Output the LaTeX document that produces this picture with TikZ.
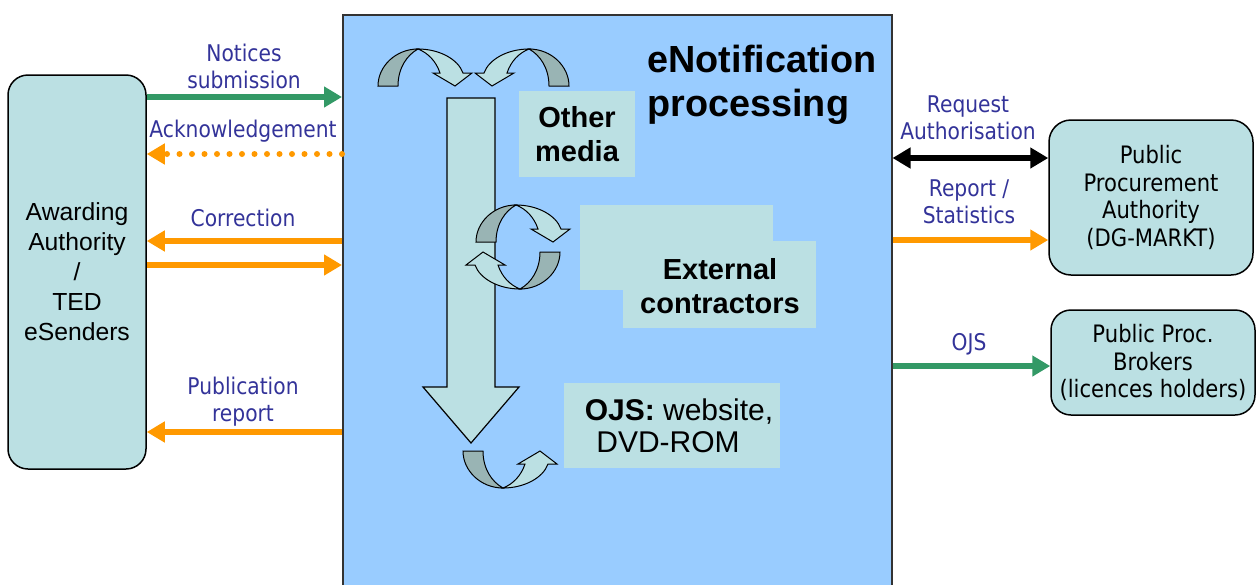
\documentclass[tikz,border=0pt]{standalone}
\usepackage{fontspec}
\setmainfont{Liberation Sans}
\newfontfamily\tahoma[FakeStretch=0.88]{DejaVu Sans}
\usepackage{xcolor}
\usetikzlibrary{arrows.meta, positioning}

\definecolor{procblue}{RGB}{153,204,255}
\definecolor{boxteal}{RGB}{187,224,227}
\definecolor{arrdark}{RGB}{153,180,180}
\definecolor{flowgreen}{RGB}{51,153,102}
\definecolor{floworange}{RGB}{255,153,0}
\definecolor{labelblue}{RGB}{51,51,153}

\tikzset{curvarrow/.pic={
  \filldraw[fill=arrdark] (-77,0) .. controls (-77,-20) and (-59,-37) .. (-37,-37)
      .. controls (-48,-31) and (-57,-18) .. (-57,0) -- cycle;
  \filldraw[fill=boxteal] (-37,-37) .. controls (-16,-37) and (3,-27) .. (8,-13)
      -- (17,-13) -- (0,0) -- (-22,-13) -- (-15,-13)
      .. controls (-19,-25) and (-27,-33) .. (-37,-37) -- cycle;
}}

\begin{document}
\begin{tikzpicture}[x=1pt, y=-1pt, >={Triangle[length=18pt,width=20pt]},
                    line width=1pt]
\tikzstyle{party}=[draw=black, fill=boxteal, line width=1.5pt,
                    rounded corners=20pt, align=center]
\tikzstyle{medium}=[fill=boxteal, align=center, inner sep=0pt,
                    font=\fontsize{29}{34}\selectfont\bfseries]
\tikzstyle{lbl}=[text=labelblue, align=center, inner sep=0pt,
                    font=\tahoma\fontsize{23}{27}\selectfont]
\tikzstyle{flow}=[line width=6.5pt, ->]
\useasboundingbox (0,0) rectangle (1257,584);
\clip (0,0) rectangle (1257,584);

  % processing area
  \node[draw=black!80, fill=procblue, line width=1.5pt, anchor=north west,
        minimum width=549pt, minimum height=620pt] (proc) at (342,14) {};
  \node[font=\fontsize{37.8}{44}\selectfont\bfseries, align=left, anchor=west,
        inner sep=0pt] (title) at (647,85) {eNotification\\processing};

  % flow of the notices
  \filldraw[fill=boxteal, line width=1.2pt] (447,98) -- (495,98) -- (495,387)
      -- (519,387) -- (471,443) -- (423,387) -- (447,387) -- cycle;
  \pic at (455,86) {curvarrow};
  \pic[xscale=-1] at (492,86) {curvarrow};
  \pic at (553,242) {curvarrow};
  \pic[rotate=180] at (483,252) {curvarrow};
  \pic[yscale=-1] at (540,451) {curvarrow};

  % media
  \node[medium, minimum width=116pt, minimum height=86pt] (other) at (577,134) {Other\\media};
  \fill[boxteal] (580,205) rectangle (773,290);
  \fill[boxteal] (623,241) rectangle (816,328);
  \node[medium, inner sep=0pt] (extern) at (720,286) {External\\contractors};
  \node[medium, minimum width=216pt, minimum height=85pt,
        font=\fontsize{30}{32}\selectfont] (ojs) at (672,425.5) {\hspace*{14pt}\textbf{OJS:} website,\\DVD-ROM\hspace*{8pt}};

  % parties
  \node[party, minimum width=138pt, minimum height=394pt,
        font=\fontsize{24.7}{30}\selectfont] (award) at (77,272) {Awarding\\Authority\\/\\TED\\eSenders};
  \node[party, rounded corners=22pt, minimum width=204pt, minimum height=155pt,
        font=\tahoma\fontsize{24}{27.5}\selectfont] (ppa) at (1151,197.5) {Public\\Procurement\\Authority\\(DG-MARKT)};
  \node[party, minimum width=204pt, minimum height=105pt,
        font=\tahoma\fontsize{24}{27.5}\selectfont] (brokers) at (1153,362.5) {Public Proc.\\Brokers\\(licences holders)};

  % connectors
  \draw[flow, flowgreen]  (award.east |- 0,97)  -- (proc.west |- 0,97);
  \draw[flow, floworange, line width=6pt, line cap=round, dash pattern=on 0pt off 12.5pt]
                          (proc.west |- 0,154) -- (award.east |- 0,154);
  \draw[flow, floworange] (proc.west |- 0,241) -- (award.east |- 0,241);
  \draw[flow, floworange] (award.east |- 0,265) -- (proc.west |- 0,265);
  \draw[flow, floworange] (proc.west |- 0,432) -- (award.east |- 0,432);
  \draw[flow, black, <->] (proc.east |- 0,158) -- (ppa.west |- 0,158);
  \draw[flow, floworange] (proc.east |- 0,240) -- (ppa.west |- 0,240);
  \draw[flow, flowgreen]  (proc.east |- 0,366) -- (brokers.west |- 0,366);

  % labels
  \node[lbl] (notices) at (244,66) {Notices\\submission};
  \node[lbl] (ack)     at (243,131) {Acknowledgement};
  \node[lbl] (corr)    at (243,218) {Correction};
  \node[lbl] (pubrep)  at (243,402) {Publication\\report};
  \node[lbl] (req)     at (968,118) {Request\\Authorisation};
  \node[lbl] (repstat) at (969,202) {Report /\\Statistics};
  \node[lbl] (ojslbl)  at (969,344) {OJS};
\end{tikzpicture}
\end{document}
